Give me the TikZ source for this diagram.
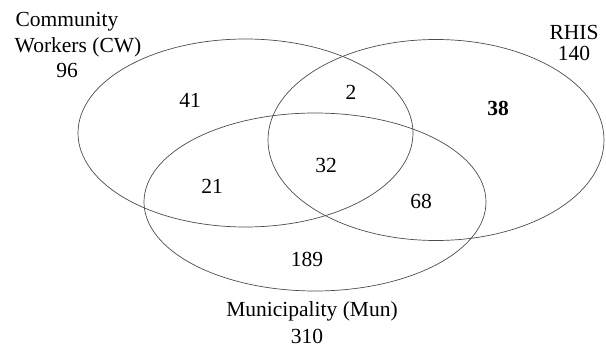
\documentclass[tikz,border=0pt]{standalone}
\usepackage{fontspec}
\setmainfont{Liberation Serif}
\begin{document}
\begin{tikzpicture}[x=1pt,y=-1pt,
  setline/.style={draw=black!70, line width=0.7pt},
  lbl/.style={font=\fontsize{21.5}{24}\selectfont, inner sep=0pt, text=black}]
\useasboundingbox (0,0) rectangle (606,348);
% ellipses
\draw[setline] (245.5,133) ellipse [x radius=167.5, y radius=94];
\draw[setline] (436,140) ellipse [x radius=168, y radius=100.5];
\draw[setline] (315,202) ellipse [x radius=171, y radius=89];
% set labels
\node[lbl] (cw1) at (67,22) {Community};
\node[lbl] (cw2) at (78,47) {Workers (CW)};
\node[lbl] (cw3) at (67,70) {96};
\node[lbl] (rh1) at (574,32) {RHIS};
\node[lbl] (rh2) at (574,53) {140};
\node[lbl] (mu1) at (312,311) {Municipality (Mun)};
\node[lbl] (mu2) at (307,336) {310};
% region counts
\node[lbl] (n41) at (190,100) {41};
\node[lbl] (n2) at (351,92) {2};
\node[lbl] (n38) at (498,108) {\textbf{38}};
\node[lbl] (n32) at (326,165) {32};
\node[lbl] (n21) at (212,186) {21};
\node[lbl] (n68) at (421,201) {68};
\node[lbl] (n189) at (307,259) {189};
\end{tikzpicture}
\end{document}
